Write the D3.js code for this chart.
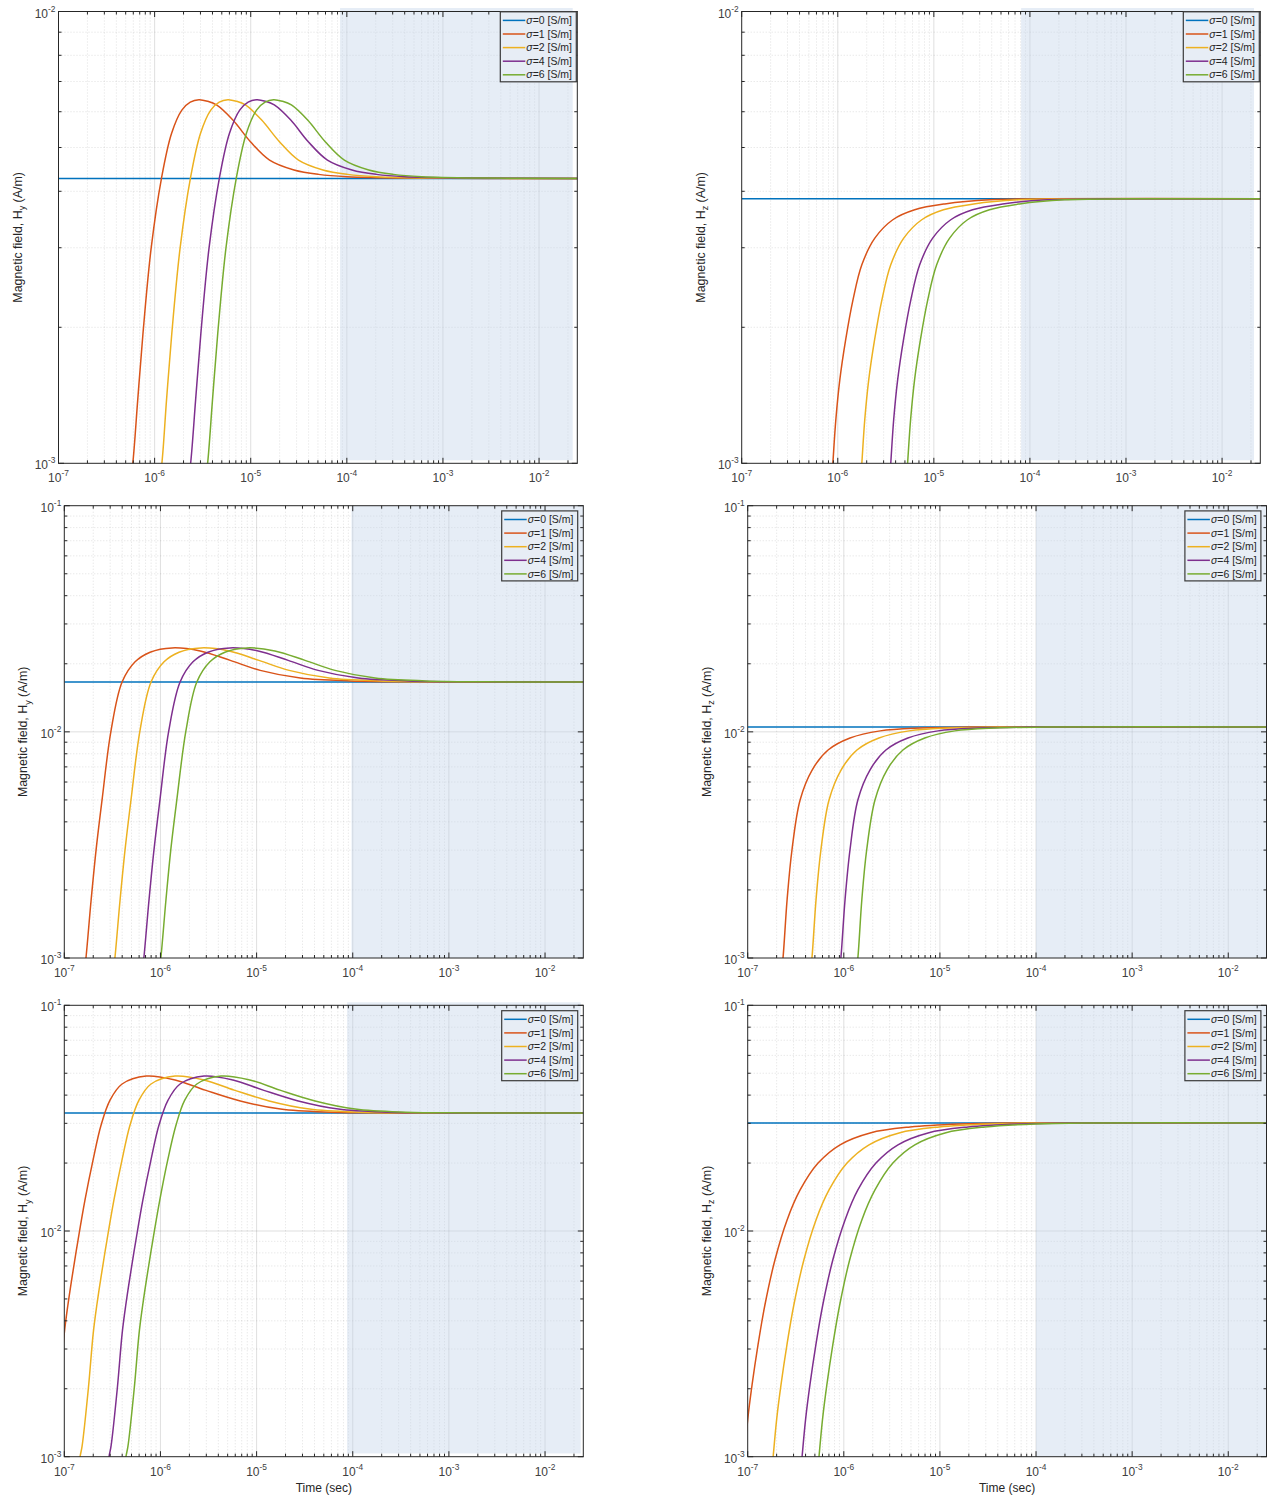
<!DOCTYPE html>
<html>
<head>
<meta charset="utf-8">
<script src="https://cdn.jsdelivr.net/npm/d3@7"></script>
<style>
  body { margin: 0; background: #fff; }
  svg { display: block; font-family: "Liberation Sans", Arial, sans-serif; }
</style>
</head>
<body>
<div id="chart"></div>
<script>
// conductivities and default matlab line colours
const sigmas = [0, 1, 2, 4, 6];
const colors = ["#0072bd", "#d95319", "#edb120", "#7e2f8e", "#77ac30"];
const timeDomain = [1e-7, 0.025];
const xDecades = [-7, -6, -5, -4, -3, -2];

// panel 1 : Hy, first receiver  ([time s, field A/m])
const p1_s0 = [[1e-7, 4.27e-3], [0.025, 4.27e-3]];
const p1_s1 = [[5.5e-7,8.9e-4],[5.93e-7,1.0e-3],[6.67e-7,1.38e-3],[7.57e-7,1.94e-3],[9.2e-7,2.99e-3],[1.18e-6,4.28e-3],[1.5e-6,5.37e-3],[1.92e-6,6.05e-3],[2.35e-6,6.3e-3],[2.89e-6,6.38e-3],[3.55e-6,6.33e-3],[4.41e-6,6.21e-3],[6.52e-6,5.75e-3],[9.93e-6,5.15e-3],[1.57e-5,4.69e-3],[2.82e-5,4.46e-3],[5.08e-5,4.36e-3],[1.0e-4,4.31e-3],[4.4e-4,4.28e-3],[0.025,4.27e-3]];
const p1_s2 = [[1.1e-6,8.9e-4],[1.19e-6,1.0e-3],[1.33e-6,1.38e-3],[1.51e-6,1.94e-3],[1.84e-6,2.99e-3],[2.36e-6,4.28e-3],[3.0e-6,5.37e-3],[3.84e-6,6.05e-3],[4.7e-6,6.3e-3],[5.78e-6,6.38e-3],[7.1e-6,6.33e-3],[8.82e-6,6.21e-3],[1.3e-5,5.75e-3],[1.99e-5,5.15e-3],[3.14e-5,4.69e-3],[5.64e-5,4.46e-3],[1.02e-4,4.36e-3],[2.0e-4,4.31e-3],[8.8e-4,4.28e-3],[0.025,4.27e-3]];
const p1_s4 = [[2.2e-6,8.9e-4],[2.37e-6,1.0e-3],[2.67e-6,1.38e-3],[3.03e-6,1.94e-3],[3.68e-6,2.99e-3],[4.72e-6,4.28e-3],[6.0e-6,5.37e-3],[7.68e-6,6.05e-3],[9.4e-6,6.3e-3],[1.16e-5,6.38e-3],[1.42e-5,6.33e-3],[1.76e-5,6.21e-3],[2.61e-5,5.75e-3],[3.97e-5,5.15e-3],[6.28e-5,4.69e-3],[1.13e-4,4.46e-3],[2.03e-4,4.36e-3],[4.0e-4,4.31e-3],[1.76e-3,4.28e-3],[0.025,4.27e-3]];
const p1_s6 = [[3.3e-6,8.9e-4],[3.56e-6,1.0e-3],[4.0e-6,1.38e-3],[4.54e-6,1.94e-3],[5.52e-6,2.99e-3],[7.08e-6,4.28e-3],[9.0e-6,5.37e-3],[1.15e-5,6.05e-3],[1.41e-5,6.3e-3],[1.73e-5,6.38e-3],[2.13e-5,6.33e-3],[2.65e-5,6.21e-3],[3.91e-5,5.75e-3],[5.96e-5,5.15e-3],[9.42e-5,4.69e-3],[1.69e-4,4.46e-3],[3.05e-4,4.36e-3],[6.0e-4,4.31e-3],[2.64e-3,4.28e-3],[0.025,4.27e-3]];

// panel 2 : Hz, first receiver
const p2_s0 = [[1e-7, 3.85e-3], [0.025, 3.85e-3]];
const p2_s1 = [[8.6e-7,9e-4],[8.89e-7,1.0e-3],[9.55e-7,1.25e-3],[1.05e-6,1.53e-3],[1.21e-6,1.88e-3],[1.44e-6,2.3e-3],[1.78e-6,2.75e-3],[2.43e-6,3.15e-3],[3.74e-6,3.46e-3],[6.32e-6,3.64e-3],[1.3e-5,3.75e-3],[3.81e-5,3.83e-3],[1.6e-4,3.85e-3],[0.025,3.85e-3]];
const p2_s2 = [[1.72e-6,9e-4],[1.78e-6,1.0e-3],[1.91e-6,1.25e-3],[2.1e-6,1.53e-3],[2.42e-6,1.88e-3],[2.88e-6,2.3e-3],[3.56e-6,2.75e-3],[4.86e-6,3.15e-3],[7.48e-6,3.46e-3],[1.26e-5,3.64e-3],[2.6e-5,3.75e-3],[7.62e-5,3.83e-3],[3.2e-4,3.85e-3],[0.025,3.85e-3]];
const p2_s4 = [[3.44e-6,9e-4],[3.56e-6,1.0e-3],[3.82e-6,1.25e-3],[4.2e-6,1.53e-3],[4.84e-6,1.88e-3],[5.76e-6,2.3e-3],[7.12e-6,2.75e-3],[9.72e-6,3.15e-3],[1.5e-5,3.46e-3],[2.53e-5,3.64e-3],[5.2e-5,3.75e-3],[1.52e-4,3.83e-3],[6.4e-4,3.85e-3],[0.025,3.85e-3]];
const p2_s6 = [[5.16e-6,9e-4],[5.33e-6,1.0e-3],[5.73e-6,1.25e-3],[6.3e-6,1.53e-3],[7.26e-6,1.88e-3],[8.64e-6,2.3e-3],[1.07e-5,2.75e-3],[1.46e-5,3.15e-3],[2.24e-5,3.46e-3],[3.79e-5,3.64e-3],[7.8e-5,3.75e-3],[2.29e-4,3.83e-3],[9.6e-4,3.85e-3],[0.025,3.85e-3]];

// panel 3 : Hy, second receiver
const p3_s0 = [[1e-7, 1.66e-2], [0.025, 1.66e-2]];
const p3_s1 = [[1.6e-7,8.4e-4],[1.68e-7,1.0e-3],[1.9e-7,1.8e-3],[2.14e-7,3.0e-3],[2.47e-7,5.0e-3],[3.06e-7,1.01e-2],[3.99e-7,1.66e-2],[5.45e-7,2.04e-2],[7.8e-7,2.25e-2],[1.32e-6,2.35e-2],[2.59e-6,2.28e-2],[5.32e-6,2.07e-2],[1.09e-5,1.87e-2],[2.85e-5,1.73e-2],[9.5e-5,1.68e-2],[4e-4,1.665e-2],[0.025,1.66e-2]];
const p3_s2 = [[3.2e-7,8.4e-4],[3.36e-7,1.0e-3],[3.8e-7,1.8e-3],[4.28e-7,3.0e-3],[4.94e-7,5.0e-3],[6.12e-7,1.01e-2],[7.98e-7,1.66e-2],[1.09e-6,2.04e-2],[1.56e-6,2.25e-2],[2.64e-6,2.35e-2],[5.18e-6,2.28e-2],[1.06e-5,2.07e-2],[2.18e-5,1.87e-2],[5.7e-5,1.73e-2],[1.9e-4,1.68e-2],[8e-4,1.665e-2],[0.025,1.66e-2]];
const p3_s4 = [[6.4e-7,8.4e-4],[6.72e-7,1.0e-3],[7.6e-7,1.8e-3],[8.56e-7,3.0e-3],[9.88e-7,5.0e-3],[1.22e-6,1.01e-2],[1.6e-6,1.66e-2],[2.18e-6,2.04e-2],[3.12e-6,2.25e-2],[5.28e-6,2.35e-2],[1.04e-5,2.28e-2],[2.13e-5,2.07e-2],[4.36e-5,1.87e-2],[1.14e-4,1.73e-2],[3.8e-4,1.68e-2],[1.6e-3,1.665e-2],[0.025,1.66e-2]];
const p3_s6 = [[9.6e-7,8.4e-4],[1.01e-6,1.0e-3],[1.14e-6,1.8e-3],[1.28e-6,3.0e-3],[1.48e-6,5.0e-3],[1.84e-6,1.01e-2],[2.39e-6,1.66e-2],[3.27e-6,2.04e-2],[4.68e-6,2.25e-2],[7.92e-6,2.35e-2],[1.55e-5,2.28e-2],[3.19e-5,2.07e-2],[6.54e-5,1.87e-2],[1.71e-4,1.73e-2],[5.7e-4,1.68e-2],[2.4e-3,1.665e-2],[0.025,1.66e-2]];

// panel 4 : Hz, second receiver
const p4_s0 = [[1e-7, 1.05e-2], [0.025, 1.05e-2]];
const p4_s1 = [[2.22e-7,8.4e-4],[2.33e-7,1.0e-3],[2.57e-7,1.81e-3],[2.89e-7,3.01e-3],[3.51e-7,5.0e-3],[4.68e-7,6.78e-3],[6.86e-7,8.31e-3],[1.16e-6,9.39e-3],[2.39e-6,1.01e-2],[6.24e-6,1.04e-2],[2.07e-5,1.05e-2],[0.025,1.05e-2]];
const p4_s2 = [[4.44e-7,8.4e-4],[4.66e-7,1.0e-3],[5.14e-7,1.81e-3],[5.78e-7,3.01e-3],[7.02e-7,5.0e-3],[9.36e-7,6.78e-3],[1.37e-6,8.31e-3],[2.32e-6,9.39e-3],[4.78e-6,1.01e-2],[1.25e-5,1.04e-2],[4.14e-5,1.05e-2],[0.025,1.05e-2]];
const p4_s4 = [[8.88e-7,8.4e-4],[9.32e-7,1.0e-3],[1.03e-6,1.81e-3],[1.16e-6,3.01e-3],[1.4e-6,5.0e-3],[1.87e-6,6.78e-3],[2.74e-6,8.31e-3],[4.64e-6,9.39e-3],[9.56e-6,1.01e-2],[2.5e-5,1.04e-2],[8.28e-5,1.05e-2],[0.025,1.05e-2]];
const p4_s6 = [[1.33e-6,8.4e-4],[1.4e-6,1.0e-3],[1.54e-6,1.81e-3],[1.73e-6,3.01e-3],[2.11e-6,5.0e-3],[2.81e-6,6.78e-3],[4.12e-6,8.31e-3],[6.96e-6,9.39e-3],[1.43e-5,1.01e-2],[3.74e-5,1.04e-2],[1.24e-4,1.05e-2],[0.025,1.05e-2]];

// panel 5 : Hy, third receiver
const p5_s0 = [[1e-7, 3.33e-2], [0.025, 3.33e-2]];
const p5_s1 = [[7.3e-8,1.0e-3],[7.65e-8,1.11e-3],[8.9e-8,2.01e-3],[1.0e-7,3.53e-3],[1.09e-7,4.7e-3],[1.2e-7,6.19e-3],[1.39e-7,9.12e-3],[1.64e-7,1.37e-2],[1.99e-7,2.06e-2],[2.41e-7,2.94e-2],[2.99e-7,3.8e-2],[3.99e-7,4.48e-2],[7.11e-7,4.86e-2],[1.42e-6,4.67e-2],[2.92e-6,4.21e-2],[6.77e-6,3.77e-2],[1.77e-5,3.47e-2],[5.86e-5,3.36e-2],[2.5e-4,3.335e-2],[0.025,3.33e-2]];
const p5_s2 = [[1.42e-7,8.5e-4],[1.46e-7,1.0e-3],[1.53e-7,1.11e-3],[1.78e-7,2.01e-3],[2.0e-7,3.53e-3],[2.18e-7,4.7e-3],[2.4e-7,6.19e-3],[2.78e-7,9.12e-3],[3.28e-7,1.37e-2],[3.98e-7,2.06e-2],[4.82e-7,2.94e-2],[5.98e-7,3.8e-2],[7.98e-7,4.48e-2],[1.42e-6,4.86e-2],[2.84e-6,4.67e-2],[5.84e-6,4.21e-2],[1.35e-5,3.77e-2],[3.54e-5,3.47e-2],[1.17e-4,3.36e-2],[5e-4,3.335e-2],[0.025,3.33e-2]];
const p5_s4 = [[2.84e-7,8.5e-4],[2.92e-7,1.0e-3],[3.06e-7,1.11e-3],[3.56e-7,2.01e-3],[4.0e-7,3.53e-3],[4.36e-7,4.7e-3],[4.8e-7,6.19e-3],[5.56e-7,9.12e-3],[6.56e-7,1.37e-2],[7.96e-7,2.06e-2],[9.64e-7,2.94e-2],[1.2e-6,3.8e-2],[1.6e-6,4.48e-2],[2.84e-6,4.86e-2],[5.68e-6,4.67e-2],[1.17e-5,4.21e-2],[2.71e-5,3.77e-2],[7.08e-5,3.47e-2],[2.34e-4,3.36e-2],[1e-3,3.335e-2],[0.025,3.33e-2]];
const p5_s6 = [[4.26e-7,8.5e-4],[4.38e-7,1.0e-3],[4.59e-7,1.11e-3],[5.34e-7,2.01e-3],[6.0e-7,3.53e-3],[6.54e-7,4.7e-3],[7.2e-7,6.19e-3],[8.34e-7,9.12e-3],[9.84e-7,1.37e-2],[1.19e-6,2.06e-2],[1.45e-6,2.94e-2],[1.79e-6,3.8e-2],[2.39e-6,4.48e-2],[4.27e-6,4.86e-2],[8.52e-6,4.67e-2],[1.75e-5,4.21e-2],[4.06e-5,3.77e-2],[1.06e-4,3.47e-2],[3.52e-4,3.36e-2],[1.5e-3,3.335e-2],[0.025,3.33e-2]];

// panel 6 : Hz, third receiver
const p6_s0 = [[1e-7, 3.01e-2], [0.025, 3.01e-2]];
const p6_s1 = [[8.9e-8,9e-4],[9.2e-8,1.0e-3],[1.0e-7,1.46e-3],[1.11e-7,2.08e-3],[1.28e-7,3.13e-3],[1.51e-7,4.7e-3],[1.92e-7,7.44e-3],[2.57e-7,1.12e-2],[3.51e-7,1.52e-2],[5.4e-7,2.0e-2],[9.14e-7,2.41e-2],[1.88e-6,2.72e-2],[4.9e-6,2.89e-2],[1.63e-5,2.98e-2],[6e-5,3.01e-2],[0.025,3.01e-2]];
const p6_s2 = [[1.8e-7,9e-4],[1.84e-7,1.0e-3],[2.0e-7,1.46e-3],[2.22e-7,2.08e-3],[2.56e-7,3.13e-3],[3.02e-7,4.7e-3],[3.84e-7,7.44e-3],[5.14e-7,1.12e-2],[7.02e-7,1.52e-2],[1.08e-6,2.0e-2],[1.83e-6,2.41e-2],[3.76e-6,2.72e-2],[9.8e-6,2.89e-2],[3.26e-5,2.98e-2],[1.2e-4,3.01e-2],[0.025,3.01e-2]];
const p6_s4 = [[3.6e-7,9e-4],[3.68e-7,1.0e-3],[4.0e-7,1.46e-3],[4.44e-7,2.08e-3],[5.12e-7,3.13e-3],[6.04e-7,4.7e-3],[7.68e-7,7.44e-3],[1.03e-6,1.12e-2],[1.4e-6,1.52e-2],[2.16e-6,2.0e-2],[3.66e-6,2.41e-2],[7.52e-6,2.72e-2],[1.96e-5,2.89e-2],[6.52e-5,2.98e-2],[2.4e-4,3.01e-2],[0.025,3.01e-2]];
const p6_s6 = [[5.4e-7,9e-4],[5.52e-7,1.0e-3],[6.0e-7,1.46e-3],[6.66e-7,2.08e-3],[7.68e-7,3.13e-3],[9.06e-7,4.7e-3],[1.15e-6,7.44e-3],[1.54e-6,1.12e-2],[2.11e-6,1.52e-2],[3.24e-6,2.0e-2],[5.48e-6,2.41e-2],[1.13e-5,2.72e-2],[2.94e-5,2.89e-2],[9.78e-5,2.98e-2],[3.6e-4,3.01e-2],[0.025,3.01e-2]];

// shaded time windows (s)
const p1_shade = [8.5e-5, 0.0224];
const p2_shade = [8.1e-5, 0.0215];
const p3_shade = [9.7e-5, 0.025];
const p4_shade = [1.0e-4, 0.025];
const p5_shade = [8.74e-5, 0.0235];
const p6_shade = [1.0e-4, 0.025];

// layout: box = [left, top, right, bottom], shadePad = [extra above top, gap above bottom]
const panels = [
  { comp: "y", box: [58.5, 11.5, 577.3, 463.3], yDom: [1e-3, 1e-2], series: [p1_s0, p1_s1, p1_s2, p1_s4, p1_s6], shade: p1_shade, shadePad: [3.5, 3], leg: [1, 0.3], xlabel: false },
  { comp: "z", box: [741.7, 11.5, 1260.3, 463.3], yDom: [1e-3, 1e-2], series: [p2_s0, p2_s1, p2_s2, p2_s4, p2_s6], shade: p2_shade, shadePad: [3.5, 3], leg: [1, 0.3], xlabel: false },
  { comp: "y", box: [64.3, 505.7, 583.3, 958], yDom: [1e-3, 1e-1], series: [p3_s0, p3_s1, p3_s2, p3_s4, p3_s6], shade: p3_shade, shadePad: [0, 0], leg: [5.6, 5.2], xlabel: false },
  { comp: "z", box: [747.7, 505.7, 1266.5, 958], yDom: [1e-3, 1e-1], series: [p4_s0, p4_s1, p4_s2, p4_s4, p4_s6], shade: p4_shade, shadePad: [0, 0], leg: [5.6, 5.2], xlabel: false },
  { comp: "y", box: [64.3, 1005.3, 583.3, 1456.7], yDom: [1e-3, 1e-1], series: [p5_s0, p5_s1, p5_s2, p5_s4, p5_s6], shade: p5_shade, shadePad: [3, 3.3], leg: [5.6, 5.4], xlabel: true },
  { comp: "z", box: [747.7, 1005.3, 1266.5, 1456.7], yDom: [1e-3, 1e-1], series: [p6_s0, p6_s1, p6_s2, p6_s4, p6_s6], shade: p6_shade, shadePad: [0, 0], leg: [5.6, 5.4], xlabel: true }
];

const ink = "#262626";
const svg = d3.select("#chart").append("svg").attr("width", 1270).attr("height", 1498);

function powLabel(sel, e) {
  sel.text("10");
  sel.append("tspan").attr("dy", -6).attr("font-size", "8.4px").text(e);
}

function minorTicks(lo, hi) {
  const out = [];
  for (let k = Math.floor(Math.log10(lo)); k <= Math.ceil(Math.log10(hi)); k++) {
    for (let m = 2; m <= 9; m++) {
      const v = m * Math.pow(10, k);
      if (v > lo * 1.0001 && v < hi * 0.9999) out.push(v);
    }
  }
  return out;
}

panels.forEach((p, idx) => {
  const [L, T, R, B] = p.box;
  const x = d3.scaleLog().domain(timeDomain).range([L, R]);
  const y = d3.scaleLog().domain(p.yDom).range([B, T]);
  const g = svg.append("g");

  const yExps = d3.range(Math.round(Math.log10(p.yDom[0])), Math.round(Math.log10(p.yDom[1])) + 1);
  const xMajors = xDecades.map(e => Math.pow(10, e));
  const yMajors = yExps.map(e => Math.pow(10, e));
  const xMinors = minorTicks(timeDomain[0], timeDomain[1]);
  const yMinors = minorTicks(p.yDom[0], p.yDom[1]);

  // grid
  const grid = g.append("g");
  grid.selectAll(".gxm").data(xMinors).join("line")
    .attr("x1", d => x(d)).attr("x2", d => x(d)).attr("y1", T).attr("y2", B)
    .attr("stroke", ink).attr("stroke-opacity", 0.14).attr("stroke-dasharray", "1,2");
  grid.selectAll(".gym").data(yMinors).join("line")
    .attr("x1", L).attr("x2", R).attr("y1", d => y(d)).attr("y2", d => y(d))
    .attr("stroke", ink).attr("stroke-opacity", 0.14).attr("stroke-dasharray", "1,2");
  grid.selectAll(".gx").data(xMajors.slice(1)).join("line")
    .attr("x1", d => x(d)).attr("x2", d => x(d)).attr("y1", T).attr("y2", B)
    .attr("stroke", ink).attr("stroke-opacity", 0.15);
  grid.selectAll(".gy").data(yMajors.slice(1, -1)).join("line")
    .attr("x1", L).attr("x2", R).attr("y1", d => y(d)).attr("y2", d => y(d))
    .attr("stroke", ink).attr("stroke-opacity", 0.15);

  // shaded time window
  g.append("rect")
    .attr("x", x(p.shade[0])).attr("width", x(p.shade[1]) - x(p.shade[0]))
    .attr("y", T - p.shadePad[0]).attr("height", (B - p.shadePad[1]) - (T - p.shadePad[0]))
    .attr("fill", "#c3d4ea").attr("fill-opacity", 0.42);

  // curves
  const clipId = "clip" + idx;
  g.append("clipPath").attr("id", clipId).append("rect")
    .attr("x", L).attr("y", T).attr("width", R - L).attr("height", B - T);
  const line = d3.line().x(d => x(d[0])).y(d => y(d[1])).curve(d3.curveCatmullRom.alpha(0.5));
  const lines = g.append("g").attr("clip-path", `url(#${clipId})`);
  p.series.forEach((s, i) => {
    lines.append("path").datum(s).attr("d", line)
      .attr("fill", "none").attr("stroke", colors[i]).attr("stroke-width", 1.5);
  });

  // box and ticks (inside, all four sides)
  g.append("rect").attr("x", L).attr("y", T).attr("width", R - L).attr("height", B - T)
    .attr("fill", "none").attr("stroke", ink).attr("stroke-width", 1);
  const ticks = g.append("g").attr("stroke", ink).attr("stroke-width", 1);
  const tx = (vals, len) => vals.forEach(v => {
    ticks.append("line").attr("x1", x(v)).attr("x2", x(v)).attr("y1", B).attr("y2", B - len);
    ticks.append("line").attr("x1", x(v)).attr("x2", x(v)).attr("y1", T).attr("y2", T + len);
  });
  const ty = (vals, len) => vals.forEach(v => {
    ticks.append("line").attr("y1", y(v)).attr("y2", y(v)).attr("x1", L).attr("x2", L + len);
    ticks.append("line").attr("y1", y(v)).attr("y2", y(v)).attr("x1", R).attr("x2", R - len);
  });
  tx(xMajors, 5.5); tx(xMinors, 3);
  ty(yMajors, 5.5); ty(yMinors, 3);

  // tick labels
  xDecades.forEach(e => {
    g.append("text").attr("x", x(Math.pow(10, e))).attr("y", B + 19)
      .attr("text-anchor", "middle").attr("font-size", "12px").attr("fill", "#404040")
      .call(powLabel, e);
  });
  yExps.forEach(e => {
    g.append("text").attr("x", L - 3).attr("y", y(Math.pow(10, e)) + 6)
      .attr("text-anchor", "end").attr("font-size", "12px").attr("fill", "#404040")
      .call(powLabel, e);
  });

  // axis labels
  const yl = g.append("text")
    .attr("transform", `translate(${L - 37},${(T + B) / 2}) rotate(-90)`)
    .attr("text-anchor", "middle").attr("font-size", "12.4px").attr("fill", ink);
  yl.append("tspan").text("Magnetic field, H");
  yl.append("tspan").attr("dy", 3.5).attr("font-size", "9px").text(p.comp);
  yl.append("tspan").attr("dy", -3.5).text(" (A/m)");
  if (p.xlabel) {
    g.append("text").attr("x", (L + R) / 2).attr("y", B + 35.5)
      .attr("text-anchor", "middle").attr("font-size", "12px").attr("fill", ink)
      .text("Time (sec)");
  }

  // legend
  const lw = 76, lh = 70;
  const lx = R - p.leg[0] - lw, ly = T + p.leg[1];
  const leg = g.append("g").attr("transform", `translate(${lx},${ly})`);
  leg.append("rect").attr("width", lw).attr("height", lh)
    .attr("fill", "#e7edf5").attr("stroke", "#3a3a3a").attr("stroke-width", 1.2);
  sigmas.forEach((s, i) => {
    const ry = 8.6 + i * 13.6;
    leg.append("line").attr("x1", 2.5).attr("x2", 25).attr("y1", ry).attr("y2", ry)
      .attr("stroke", colors[i]).attr("stroke-width", 1.5);
    const t = leg.append("text").attr("x", 26).attr("y", ry + 3.7)
      .attr("font-size", "10.5px").attr("fill", ink);
    t.append("tspan").attr("font-style", "italic").text("σ");
    t.append("tspan").text(`=${s} [S/m]`);
  });
});
</script>
</body>
</html>
